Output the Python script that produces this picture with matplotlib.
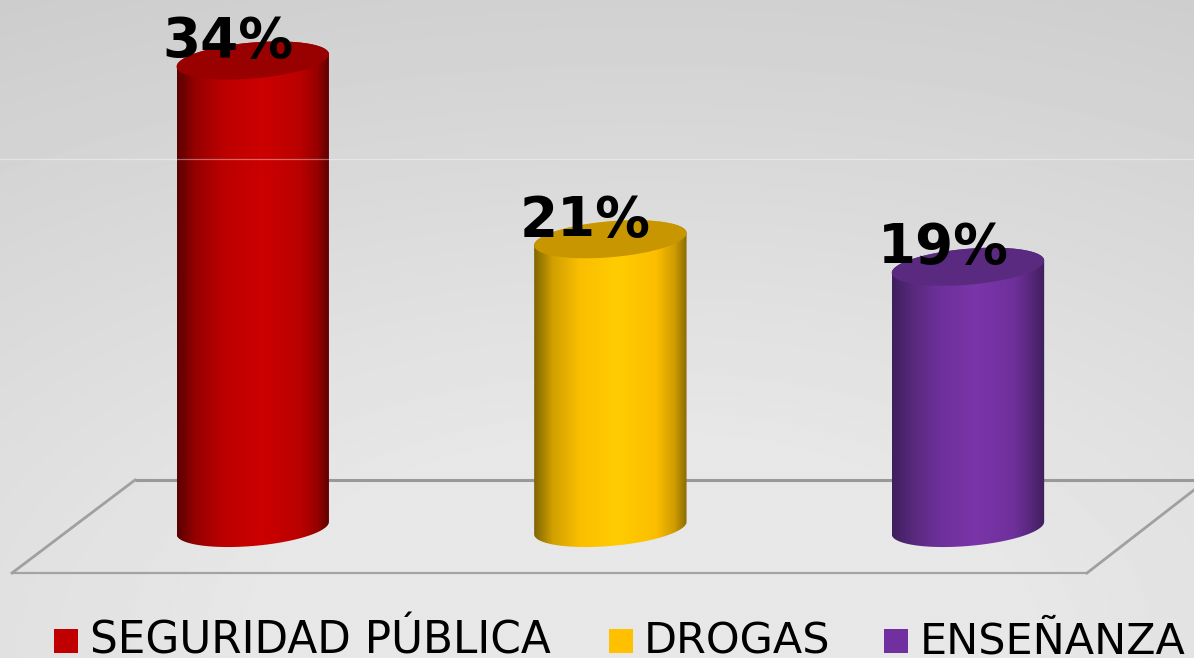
import numpy as np
import matplotlib
matplotlib.use("Agg")
import matplotlib.pyplot as plt
from matplotlib.colors import LinearSegmentedColormap
from matplotlib.patches import Polygon, Rectangle

categories = ["SEGURIDAD PÚBLICA", "DROGAS", "ENSEÑANZA"]
values = [34, 21, 19]
value_labels = ["34%", "21%", "19%"]
legend_colors = ["#c00000", "#ffc000", "#7030a0"]
top_colors = ["#990000", "#c89600", "#5a2a80"]
shade_stops = [
    ["#5a0000", "#960000", "#bb0000", "#cc0000", "#bb0000", "#980000", "#5c0000"],
    ["#7f6600", "#d09f00", "#fbbf00", "#ffcc00", "#fbbe00", "#d09c00", "#8a6c00"],
    ["#3e1f5c", "#552879", "#6d309a", "#7a35a8", "#6e309b", "#552778", "#3e1f5c"],
]
stop_pos = [0.0, 0.12, 0.3, 0.55, 0.8, 0.92, 1.0]

W, H = 1194, 658
PX_PER_CAT = 357.6
PX_PER_VAL = 13.75
X0_PX, Y0_PX = 252.75, 528.0

fig = plt.figure(figsize=(W / 100, H / 100), dpi=100)

# background, floor and legend, in figure pixels
bg = fig.add_axes([0, 0, 1, 1], zorder=0)
yy, xx = np.mgrid[0:H:2, 0:W:2]
dist = np.hypot((xx - 640) / 1.9, yy - 640) / 640
shade = 0.91 - 0.13 * np.clip(dist - 0.3, 0, None)
bg.imshow(shade, cmap="gray", vmin=0, vmax=1, extent=(0, W, H, 0),
          aspect="auto", interpolation="bilinear")
bg.plot([135, W], [480, 480], color="#999999", lw=2.2, solid_capstyle="butt")
bg.plot([12, 1087], [573, 573], color="#a3a3a3", lw=1.6, solid_capstyle="butt")
bg.plot([135, 12], [480, 573], color="#a0a0a0", lw=2.0)
bg.plot([1087, W], [573, 490], color="#a0a0a0", lw=2.0)
bg.set_xlim(0, W)
bg.set_ylim(H, 0)
bg.axis("off")

# chart, in category / percent units
ax = fig.add_axes([0, 0, 1, 1], zorder=1)
ax.patch.set_alpha(0)
xlim = (-X0_PX / PX_PER_CAT, (W - X0_PX) / PX_PER_CAT)
ylim = ((Y0_PX - H) / PX_PER_VAL, Y0_PX / PX_PER_VAL)
half_w = 76.2 / PX_PER_CAT
tilt = 6.2 / PX_PER_VAL
depth = 18.0 / PX_PER_VAL


def rim(cx, cy, t):
    return np.column_stack([cx + half_w * np.cos(t),
                            cy + tilt * np.cos(t) + depth * np.sin(t)])


for i, v in enumerate(values):
    body = np.vstack([rim(i, 0, np.linspace(np.pi, 2 * np.pi, 80)),
                      rim(i, v, np.linspace(0, np.pi, 80))])
    cmap = LinearSegmentedColormap.from_list(
        "s", list(zip(stop_pos, shade_stops[i])))
    clip = Polygon(body, closed=True, transform=ax.transData, fc="none", ec="none")
    ax.add_patch(clip)
    im = ax.imshow(np.linspace(0, 1, 256)[None, :], cmap=cmap, aspect="auto",
                   extent=(i - half_w, i + half_w, -3, v + 3), zorder=2,
                   interpolation="bilinear")
    im.set_clip_path(clip)
    ax.add_patch(Polygon(rim(i, v, np.linspace(0, 2 * np.pi, 160)), closed=True,
                         fc=top_colors[i], ec="none", zorder=3))
    ax.text(i - 25 / PX_PER_CAT, v + 3.5 / PX_PER_VAL, value_labels[i],
            ha="center", va="baseline", fontsize=39.4, fontweight="bold",
            family="DejaVu Sans", color="black", zorder=5)

ax.set_xlim(*xlim)
ax.set_ylim(*ylim)
ax.axis("off")

# legend
legend_x = [54, 609, 884]
text_x = [90, 644, 920]
text_size = [31.5, 30.9, 30.9]
for name, color, mx, tx, fs in zip(categories, legend_colors, legend_x, text_x, text_size):
    bg.add_patch(Rectangle((mx, 629), 24, 24, fc=color, ec="none"))
    bg.text(tx, 654, name, fontsize=fs, family="DejaVu Sans", color="black",
            ha="left", va="baseline", clip_on=False)

# faint highlight rule across the slide
fig.add_artist(plt.Line2D([0, 1], [1 - 159 / H, 1 - 159 / H], color="white",
                          lw=0.9, alpha=0.4, zorder=4))

fig.savefig("out.png", dpi=100)
